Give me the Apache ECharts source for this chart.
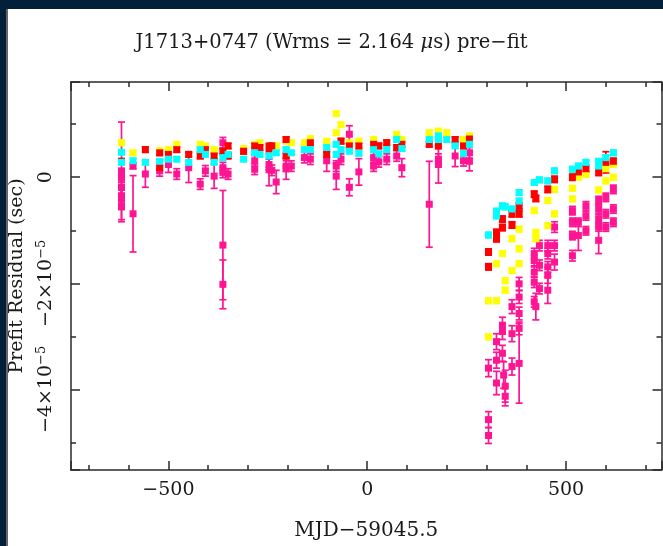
<!DOCTYPE html>
<html>
<head>
<meta charset="utf-8">
<title>J1713+0747 pre-fit residuals</title>
<script src="https://cdn.jsdelivr.net/npm/echarts@6/dist/echarts.min.js"></script>
<style>
  html, body { margin: 0; padding: 0; background: #fff; }
  #chart { width: 663px; height: 546px; }
</style>
</head>
<body>
<div id="chart"></div>
<script>
// rows: [MJD - 59045.5, residual (us), error (us)]
const pinkRows = [
  [-618, 1.2, 9.2], [-618, 0, 1], [-618, -1.9, 1.2], [-618, -3.5, 1.5], [-618, -4.1, 2], [-618, -5.4, 3],
  [-589, 2.1, 0.5], [-589, -6.9, 7.2], [-558, 0.6, 2.5], [-522, 1.2, 1], [-500, 2.4, 1.5],
  [-479, 0.6, 1], [-449, 1.8, 2.8], [-420, -1.3, 1], [-407, 1.2, 1], [-385, 0.2, 2.3],
  [-363, 6.5, 1], [-363, 1.8, 1], [-363, 0.9, 1], [-363, -12.8, 10.3], [-363, -20.2, 4.6],
  [-350, 0.6, 1], [-283, 3.1, 1], [-283, 1.5, 1], [-247, 2.4, 1], [-247, 1.4, 3], [-240, 1.3, 1],
  [-229, -0.9, 2.2], [-204, 2.1, 1], [-204, 1.6, 2], [-191, 2.1, 1], [-158, 3.7, 1], [-143, 3.4, 1],
  [-102, 3.1, 2], [-78, 2.1, 1], [-78, 0.2, 2.5], [-66, 3.4, 1], [-45, 8.1, 1.6], [-45, -1.9, 1.6],
  [-21, 1.0, 2.5], [16, 3.7, 1], [16, 2.1, 1], [29, 2.9, 1], [49, 3.4, 1], [74, 4.0, 1], [87, 1.8, 1.7],
  [156, -5.1, 8.1], [179, 3.4, 1], [179, 2.4, 3.5], [221, 4.0, 2], [242, 3.1, 1], [257, 4.6, 1], [257, 3.0, 1.8],
  [305, -36.0, 1.6], [305, -45.7, 1.5], [305, -48.7, 1.5],
  [325, -31.0, 1.5], [325, -34.5, 1.5], [325, -38.8, 2.2],
  [340, -27.9, 1.5], [340, -29.1, 1.5], [340, -33.2, 1.5], [343, -37.3, 2.5], [347, -39.4, 3], [347, -41.3, 1.8],
  [364, -24.4, 1.3], [364, -29.5, 1.5], [364, -35.7, 1.6],
  [382, -20.1, 1.2], [382, -22.6, 1.2], [382, -25.7, 1.2], [382, -28.5, 1.2], [382, -35.1, 7.5],
  [420, -14.4, 1], [420, -15.7, 1], [420, -17.9, 1], [420, -19.8, 1], [420, -23.5, 1], [424, -24.4, 2.5],
  [433, -12.9, 1], [433, -16.6, 1], [433, -21.0, 1],
  [454, -12.9, 1], [454, -14.4, 1], [454, -16.9, 1], [454, -18.5, 1.5], [454, -21.3, 2.5],
  [471, -9.4, 1], [471, -12.9, 1], [471, -16.0, 1.5],
  [516, -6.3, 0.8], [516, -8.5, 0.8], [516, -11.0, 0.8], [516, -14.8, 1],
  [531, -8.5, 0.8], [531, -11.0, 2.8],
  [550, -5.4, 0.8], [550, -7.3, 0.8], [550, -10.1, 0.8],
  [582, -4.4, 0.8], [582, -6.0, 0.8], [582, -7.9, 0.8], [582, -9.4, 0.8], [582, -11.9, 2.5],
  [600, -3.8, 0.8], [600, -6.9, 0.8], [600, -9.4, 0.8],
  [619, -2.3, 0.8], [619, -6.0, 0.8], [619, -8.5, 0.8]
]
const yellowRows = [
  [-618, 6.5, 0.5], [-589, 4.6, 0.4], [-522, 5.0, 0.4], [-500, 5.2, 0.4], [-479, 6.2, 0.4],
  [-420, 6.2, 0.4], [-407, 5.9, 0.4], [-385, 5.2, 0.4], [-311, 5.4, 0.4], [-283, 6.2, 0.4],
  [-270, 6.5, 0.4], [-229, 5.9, 0.4], [-204, 6.8, 0.4], [-191, 6.5, 0.4], [-158, 6.5, 0.4],
  [-143, 7.3, 0.4], [-102, 6.8, 0.4], [-78, 12.0, 0.4], [-78, 8.4, 0.4], [-66, 9.9, 0.4],
  [-45, 6.5, 0.4], [-21, 6.8, 0.4], [16, 7.1, 0.4], [74, 8.1, 0.4], [87, 7.1, 0.4],
  [156, 8.4, 0.4], [179, 8.7, 0.4], [200, 8.4, 0.4], [242, 7.1, 0.4], [257, 7.8, 0.4],
  [305, -23.3, 0.5], [305, -30.1, 0.5], [325, -23.3, 0.5], [325, -16.3, 0.5], [340, -14.4, 0.5],
  [347, -19.5, 0.5], [347, -21.3, 0.5], [364, -11.6, 0.5], [364, -17.6, 0.5],
  [382, -9.8, 0.5], [382, -13.5, 0.5], [382, -16.3, 0.5], [420, -6.3, 0.5], [424, -10.4, 0.5],
  [424, -11.6, 0.5], [454, -4.4, 0.5], [454, -9.1, 0.5], [471, -2.3, 0.5], [471, -6.9, 0.5],
  [516, -2.1, 0.5], [516, -4.1, 0.5], [531, 0.0, 0.5], [550, 0.5, 0.5], [582, -2.4, 0.5],
  [600, 1.6, 0.5], [600, -0.7, 0.5], [619, 2.4, 0.5], [619, 0.0, 0.5]
]
const redRows = [
  [-618, 3.0, 0.5], [-558, 5.2, 0.5], [-522, 4.6, 0.5], [-522, 1.8, 0.5], [-500, 4.3, 0.5],
  [-479, 5.2, 0.5], [-449, 4.3, 0.5], [-420, 4.0, 0.5], [-407, 5.2, 0.5], [-385, 4.0, 0.5],
  [-363, 4.9, 0.5], [-350, 5.9, 0.5], [-350, 4.0, 0.5], [-311, 4.9, 0.5], [-283, 5.9, 0.5],
  [-270, 5.6, 0.5], [-247, 5.6, 0.8], [-240, 5.9, 0.5], [-204, 7.1, 0.5], [-204, 4.0, 0.5],
  [-143, 6.5, 0.5], [-102, 4.3, 0.5], [-66, 6.8, 0.5], [-45, 5.9, 0.5], [-21, 5.9, 0.5],
  [16, 6.2, 0.5], [29, 5.9, 0.5], [49, 6.5, 0.5], [74, 5.6, 0.5], [87, 6.2, 0.5],
  [156, 6.2, 0.5], [179, 5.9, 0.5], [221, 7.1, 0.5], [242, 5.9, 0.5], [257, 7.2, 0.5],
  [305, -14.1, 0.6], [305, -16.9, 0.6], [325, -10.4, 0.6], [325, -11.6, 0.6], [340, -7.9, 0.6],
  [340, -9.5, 0.6], [364, -6.9, 0.6], [364, -9.0, 0.6], [382, -5.4, 0.6], [382, -6.9, 0.6],
  [420, -3.2, 0.6], [424, -4.0, 0.6], [454, -2.3, 0.6], [471, -0.4, 0.6], [516, 0.0, 0.6],
  [531, 1.0, 0.6], [550, 1.6, 0.6], [582, 0.9, 0.6], [600, 2.8, 2.0], [619, 3.0, 0.6]
]
const cyanRows = [
  [-618, 4.7, 0.4], [-618, 2.8, 0.4], [-589, 3.1, 0.4], [-558, 2.8, 0.4], [-522, 3.0, 0.4],
  [-500, 3.4, 0.4], [-479, 3.4, 0.4], [-449, 2.8, 0.4], [-420, 5.2, 0.4], [-407, 4.3, 0.4],
  [-385, 2.8, 0.4], [-363, 3.7, 0.4], [-350, 4.3, 0.4], [-311, 3.4, 0.4], [-283, 4.6, 0.4],
  [-270, 4.3, 0.4], [-247, 4.0, 0.4], [-229, 4.6, 0.4], [-204, 5.2, 0.4], [-191, 4.6, 0.4],
  [-158, 5.2, 0.4], [-143, 5.2, 0.4], [-102, 5.6, 0.4], [-78, 6.2, 0.4], [-78, 4.3, 0.4],
  [-66, 5.2, 0.4], [-45, 4.9, 0.4], [-21, 4.5, 0.4], [16, 5.2, 0.4], [29, 4.4, 0.4],
  [49, 5.2, 0.4], [74, 7.1, 0.4], [87, 5.4, 0.4], [156, 7.1, 0.4], [179, 7.8, 0.4],
  [179, 7.1, 0.4], [200, 7.1, 0.4], [221, 5.9, 0.4], [242, 4.5, 0.4], [257, 6.2, 0.4],
  [305, -10.9, 0.5], [325, -6.4, 0.5], [325, -7.3, 0.5], [340, -5.4, 0.5], [347, -5.6, 0.5],
  [364, -6.0, 0.5], [382, -2.9, 0.5], [382, -4.5, 0.5], [420, -1.0, 0.5], [433, -0.5, 0.5],
  [454, -0.7, 0.5], [471, 1.2, 0.5], [516, 1.5, 0.5], [531, 2.1, 0.5], [550, 2.8, 0.5],
  [582, 3.0, 0.5], [582, 2.1, 0.5], [600, 3.7, 0.5], [619, 4.6, 0.5]
]

const FONT = 'DejaVu Serif'
const INK = '#1a1a1a'
const AXIS_LINE = '#2a2a2a'

const chart = echarts.init(document.getElementById('chart'))

function errorBars(rows, color) {
  return {
    type: 'custom',
    silent: true,
    encode: { x: 0, y: 1 },
    data: rows,
    renderItem: (params, api) => {
      const x = api.value(0)
      const y = api.value(1)
      const e = api.value(2)
      const hi = api.coord([x, y + e])
      const lo = api.coord([x, y - e])
      const w = 3.5
      const style = { stroke: color, lineWidth: 1.7 }
      return {
        type: 'group',
        children: [
          { type: 'line', shape: { x1: hi[0], y1: hi[1], x2: lo[0], y2: lo[1] }, style },
          { type: 'line', shape: { x1: hi[0] - w, y1: hi[1], x2: hi[0] + w, y2: hi[1] }, style },
          { type: 'line', shape: { x1: lo[0] - w, y1: lo[1], x2: lo[0] + w, y2: lo[1] }, style },
        ],
      }
    },
  }
}

function points(rows, color, size) {
  return {
    type: 'scatter',
    symbol: 'rect',
    symbolSize: size,
    encode: { x: 0, y: 1 },
    data: rows,
    itemStyle: { color: color, opacity: 1 },
  }
}

const lineStyle = { color: AXIS_LINE, width: 1.5 }

function xAxis(position, withLabels) {
  return {
    type: 'value',
    position: position,
    min: -745,
    max: 740,
    minInterval: 500,
    maxInterval: 500,
    axisLine: { show: true, onZero: false, lineStyle },
    axisTick: { show: true, inside: true, length: 9, lineStyle },
    minorTick: { show: true, splitNumber: 5, length: 5, lineStyle },
    splitLine: { show: false },
    axisLabel: {
      show: withLabels,
      showMinLabel: false,
      showMaxLabel: false,
      margin: 11,
      fontFamily: FONT,
      fontSize: 19,
      color: INK,
      formatter: v => (v % 500 !== 0 ? '' : v < 0 ? '\u2212' + Math.abs(v) : String(v)),
    },
    name: withLabels ? 'MJD\u221259045.5' : '',
    nameLocation: 'middle',
    nameGap: 51,
    nameTextStyle: { fontFamily: FONT, fontSize: 20, color: INK },
  }
}

function yAxis(position, withLabels) {
  return {
    type: 'value',
    position: position,
    min: -55.2,
    max: 17.95,
    minInterval: 20,
    maxInterval: 20,
    axisLine: { show: true, onZero: false, lineStyle },
    axisTick: { show: true, inside: true, length: 9, lineStyle },
    minorTick: { show: true, splitNumber: 2, length: 5, lineStyle },
    splitLine: { show: false },
    axisLabel: {
      show: withLabels,
      showMinLabel: false,
      showMaxLabel: false,
      rotate: 90,
      margin: 14,
      color: INK,
      formatter: v => {
        if (v % 20 !== 0) return ''
        if (v === 0) return '{a|0}'
        return '{a|\u2212' + Math.abs(v) / 10 + '\u00d710}{s|\u22125}'
      },
      rich: {
        a: { fontFamily: FONT, fontSize: 19, color: INK, lineHeight: 22 },
        s: { fontFamily: FONT, fontSize: 13, color: INK, verticalAlign: 'top', lineHeight: 22, padding: [0, 0, 8, 0] },
      },
    },
    name: withLabels ? 'Prefit Residual (sec)' : '',
    nameLocation: 'middle',
    nameRotate: 90,
    nameGap: 44,
    nameTextStyle: { fontFamily: FONT, fontSize: 19, color: INK },
  }
}

const option = {
  backgroundColor: '#ffffff',
  animation: false,
  title: {
    text: 'J1713+0747 (Wrms = 2.164 {i|\u03bc}s) pre\u2212fit',
    left: 'center',
    top: 28,
    textStyle: {
      fontFamily: FONT,
      fontSize: 19.5,
      fontWeight: 'normal',
      color: INK,
      rich: { i: { fontFamily: FONT, fontSize: 19.5, fontStyle: 'italic', color: INK } },
    },
  },
  grid: { left: 71, right: 1.5, top: 82, bottom: 74, containLabel: false },
  xAxis: [xAxis('bottom', true), xAxis('top', false)],
  yAxis: [yAxis('left', true), yAxis('right', false)],
  series: [
    errorBars(pinkRows, '#ff1493'),
    errorBars(yellowRows, '#ffff00'),
    errorBars(redRows, '#ff0000'),
    errorBars(cyanRows, '#00ffff'),
    points(pinkRows, '#ff1493', 7),
    points(yellowRows, '#ffff00', 7),
    points(redRows, '#ff0000', 7),
    points(cyanRows, '#00ffff', 7),
  ],
  graphic: [
    { type: 'rect', z: 100, shape: { x: 0, y: 0, width: 663, height: 9 }, style: { fill: '#03203a' } },
    { type: 'rect', z: 100, shape: { x: 0, y: 0, width: 6, height: 546 }, style: { fill: '#03203a' } },
    { type: 'rect', z: 100, shape: { x: 6, y: 9, width: 2, height: 537 }, style: { fill: '#6a6468' } },
  ],
}

chart.setOption(option)
</script>
</body>
</html>
